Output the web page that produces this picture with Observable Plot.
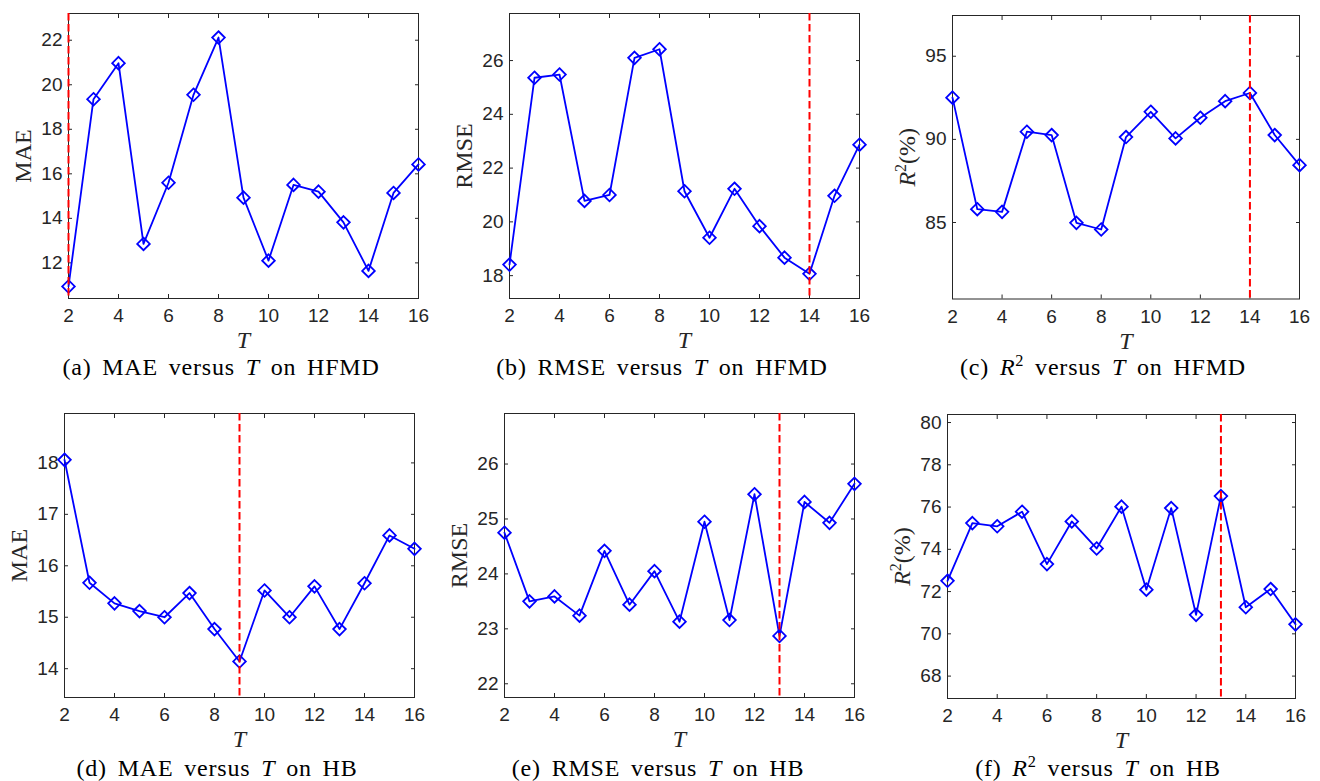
<!DOCTYPE html>
<html><head><meta charset="utf-8">
<script src="https://cdn.jsdelivr.net/npm/d3@7"></script>
<script src="https://cdn.jsdelivr.net/npm/@observablehq/plot@0.6"></script>
<style>
body{margin:0;background:#fff;}
#fig{position:relative;width:1320px;height:781px;overflow:hidden;background:#fff;}
.panel{position:absolute;}
.cap{position:absolute;transform:translate(-50%,-50%);font-family:"Liberation Serif",serif;font-size:24px;color:#000;white-space:nowrap;letter-spacing:0.8px;word-spacing:4px;}
.cap sup{font-size:68%;vertical-align:0.5em;line-height:0;}
</style></head><body><div id="fig"></div>
<script>
// ---- data ----
const T = [2, 3, 4, 5, 6, 7, 8, 9, 10, 11, 12, 13, 14, 15, 16];
const maeHFMD  = [10.94, 19.35, 20.97, 12.85, 15.6, 19.55, 22.12, 14.93, 12.1, 15.5, 15.2, 13.82, 11.64, 15.14, 16.42];
const rmseHFMD = [18.41, 25.36, 25.48, 20.78, 21.0, 26.1, 26.42, 21.14, 19.41, 21.23, 19.84, 18.67, 18.07, 20.97, 22.87];
const r2HFMD   = [92.51, 85.8, 85.64, 90.46, 90.26, 84.98, 84.58, 90.14, 91.66, 90.06, 91.3, 92.3, 92.79, 90.26, 88.45];
const maeHB    = [18.06, 15.67, 15.27, 15.12, 15.0, 15.47, 14.77, 14.14, 15.52, 15.0, 15.6, 14.77, 15.66, 16.59, 16.33];
const rmseHB   = [24.75, 23.5, 23.59, 23.24, 24.42, 23.44, 24.05, 23.13, 24.95, 23.16, 25.45, 22.87, 25.31, 24.93, 25.64];
const r2HB     = [72.51, 75.24, 75.09, 75.78, 73.3, 75.32, 74.04, 76.02, 72.09, 75.95, 70.9, 76.52, 71.26, 72.12, 70.45];
const bestT    = {a: 2, b: 14, c: 14, d: 9, e: 13, f: 13};
const xTicks   = [2, 4, 6, 8, 10, 12, 14, 16];
const yTicksA  = [12, 14, 16, 18, 20, 22];
const yTicksB  = [18, 20, 22, 24, 26];
const yTicksC  = [85, 90, 95];
const yTicksD  = [14, 15, 16, 17, 18];
const yTicksE  = [22, 23, 24, 25, 26];
const yTicksF  = [68, 70, 72, 74, 76, 78, 80];
const yLabels  = {a: "MAE", b: "RMSE", c: "R2(%)", d: "MAE", e: "RMSE", f: "R2(%)"};
const captions = {
  a: "(a) MAE versus <i>T</i> on HFMD",
  b: "(b) RMSE versus <i>T</i> on HFMD",
  c: "(c) <i>R</i><sup>2</sup> versus <i>T</i> on HFMD",
  d: "(d) MAE versus <i>T</i> on HB",
  e: "(e) RMSE versus <i>T</i> on HB",
  f: "(f) <i>R</i><sup>2</sup> versus <i>T</i> on HB"
};

// ---- layout ----
const layout = [
  {key: "a", vals: maeHFMD,  ticks: yTicksA, dom: [10.4, 23.2],   l: 68,  r: 418,  t: 13,  b: 298, cx: 221,  cy: 367},
  {key: "b", vals: rmseHFMD, ticks: yTicksB, dom: [17.15, 27.75], l: 509, r: 859,  t: 13,  b: 298, cx: 662,  cy: 367},
  {key: "c", vals: r2HFMD,   ticks: yTicksC, dom: [80.4, 97.45],  l: 952, r: 1299, t: 14.5, b: 298, cx: 1103, cy: 367},
  {key: "d", vals: maeHB,    ticks: yTicksD, dom: [13.44, 18.96], l: 64,  r: 414,  t: 413, b: 697, cx: 217,  cy: 768},
  {key: "e", vals: rmseHB,   ticks: yTicksE, dom: [21.75, 26.92], l: 504, r: 854,  t: 413, b: 697, cx: 658,  cy: 768},
  {key: "f", vals: r2HB,     ticks: yTicksF, dom: [66.94, 80.38], l: 947, r: 1295, t: 414, b: 698, cx: 1098, cy: 768}
];

const ML = 70, MR = 20, MTop = 15, MB = 60;
const ink = "#262626";
const serif = "Liberation Serif";
const sans = "Liberation Sans, Arial, sans-serif";
const diamond = {
  draw(ctx, size) {
    const s = Math.sqrt(size / Math.PI);
    ctx.moveTo(0, -s); ctx.lineTo(s, 0); ctx.lineTo(0, s); ctx.lineTo(-s, 0); ctx.closePath();
  }
};
const blank = () => "";
const fmt = d => String(d);
const fig = document.getElementById("fig");

for (const p of layout) {
  const data = T.map((t, i) => ({T: t, v: p.vals[i]}));
  const chart = Plot.plot({
    width: (p.r - p.l) + ML + MR,
    height: (p.b - p.t) + MTop + MB,
    marginLeft: ML, marginRight: MR, marginTop: MTop, marginBottom: MB,
    style: {fontFamily: sans, fontSize: "19px", color: ink, background: "transparent", overflow: "visible"},
    x: {domain: [2, 16]},
    y: {domain: p.dom},
    marks: [
      Plot.frame({stroke: ink, strokeWidth: 1}),
      Plot.axisX(xTicks, {anchor: "bottom", tickSize: 0, tickPadding: 10, label: null, tickFormat: fmt, fontSize: 19, fontFamily: sans, fill: ink}),
      Plot.axisY(p.ticks, {anchor: "left", tickSize: 0, tickPadding: 6, label: null, tickFormat: fmt, fontSize: 19, fontFamily: sans, fill: ink}),
      Plot.axisX(xTicks, {anchor: "bottom", tickSize: 4, dy: -4, tickFormat: blank, label: null, stroke: ink}),
      Plot.axisX(xTicks, {anchor: "top", tickSize: 4, dy: 4, tickFormat: blank, label: null, stroke: ink}),
      Plot.axisY(p.ticks, {anchor: "left", tickSize: 4, dx: 4, tickFormat: blank, label: null, stroke: ink}),
      Plot.axisY(p.ticks, {anchor: "right", tickSize: 4, dx: -4, tickFormat: blank, label: null, stroke: ink}),
      Plot.text([yLabels[p.key]], {text: d => d, frameAnchor: "left", dx: -45, rotate: -90, textAnchor: "middle", lineAnchor: "middle", fontFamily: serif, fontSize: 24, fill: ink}),
      Plot.text(["T"], {text: d => d, frameAnchor: "bottom", dy: 42, textAnchor: "middle", lineAnchor: "middle", fontFamily: serif, fontStyle: "italic", fontSize: 24, fill: ink}),
      Plot.line(data, {x: "T", y: "v", stroke: "#0000FF", strokeWidth: 1.8}),
      Plot.dot(data, {x: "T", y: "v", r: 6.3, symbol: diamond, stroke: "#0000FF", fill: "none", strokeWidth: 1.8}),
      Plot.ruleX([bestT[p.key]], {stroke: "#FF0000", strokeWidth: 2, strokeDasharray: "7.5,3.5"})
    ]
  });
  // rich text for R^2 label
  chart.querySelectorAll("text").forEach(t => {
    if (t.textContent === "R2(%)") {
      const NS = "http://www.w3.org/2000/svg";
      while (t.firstChild) t.removeChild(t.firstChild);
      const a = document.createElementNS(NS, "tspan"); a.setAttribute("font-style", "italic"); a.textContent = "R";
      const b = document.createElementNS(NS, "tspan"); b.setAttribute("font-size", "16"); b.setAttribute("dy", "-9"); b.textContent = "2";
      const c = document.createElementNS(NS, "tspan"); c.setAttribute("dy", "9"); c.textContent = "(%)";
      t.append(a, b, c);
    }
  });
  const wrap = document.createElement("div");
  wrap.className = "panel";
  wrap.style.left = (p.l - ML) + "px";
  wrap.style.top = (p.t - MTop) + "px";
  wrap.appendChild(chart);
  fig.appendChild(wrap);
  const cap = document.createElement("div");
  cap.className = "cap";
  cap.style.left = p.cx + "px";
  cap.style.top = p.cy + "px";
  cap.innerHTML = captions[p.key];
  fig.appendChild(cap);
}
</script>
</body></html>
